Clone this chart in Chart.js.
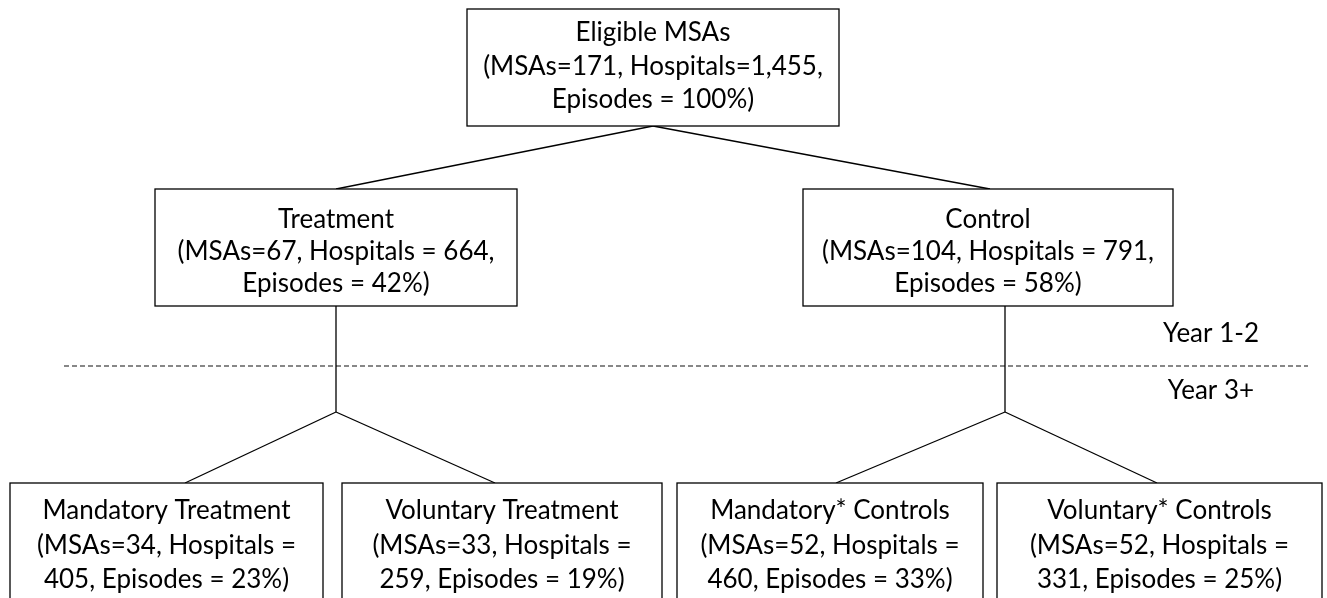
<!DOCTYPE html>
<html>
<head>
<meta charset="utf-8">
<script src="https://cdn.jsdelivr.net/npm/chart.js@4"></script>
<style>
html,body{margin:0;padding:0;background:#fff;}
#wrap{width:1327px;height:598px;position:relative;}
</style>
</head>
<body>
<div id="wrap"><canvas id="c" width="1327" height="598"></canvas></div>
<script>
// ---- content ----
const nodeTitles = ["Eligible MSAs","Treatment","Control","Mandatory Treatment","Voluntary Treatment","Mandatory* Controls","Voluntary* Controls"];
const nodeLine2 = ["(MSAs=171, Hospitals=1,455,","(MSAs=67, Hospitals = 664,","(MSAs=104, Hospitals = 791,","(MSAs=34, Hospitals =","(MSAs=33, Hospitals =","(MSAs=52, Hospitals =","(MSAs=52, Hospitals ="];
const nodeLine3 = ["Episodes = 100%)","Episodes = 42%)","Episodes = 58%)","405, Episodes = 23%)","259, Episodes = 19%)","460, Episodes = 33%)","331, Episodes = 25%)"];
const periodLabels = ["Year 1-2","Year 3+"];

// ---- layout (diagram coordinates) ----
const boxLeft   = [467, 155, 803, 10, 342, 677, 997];
const boxRight  = [839, 517, 1173, 323, 662, 983, 1322];
const boxTop    = [9, 189, 189, 483, 483, 483, 483];
const boxBottom = [126, 306, 306, 606, 606, 606, 606];
const textRowY  = [[33,67,100],[220,252,284],[220,252,284],[511,546,580],[511,546,580],[511,546,580],[511,546,580]];
// connectors
const connFromX = [653, 653, 336, 336, 336, 1005, 1005, 1005];
const connFromY = [126, 126, 306, 412, 412, 306, 412, 412];
const connToX   = [336, 990, 336, 185, 495, 1005, 836, 1157];
const connToY   = [189, 189, 412, 483, 483, 412, 483, 483];
const dividerX  = [64, 1308];
const dividerY  = 366;
const periodX   = [1211, 1211];
const periodY   = [334, 391];

const FONT = '26px Lato, "Open Sans", sans-serif';

const datasets = [];
for (let i = 0; i < connFromX.length; i++) {
  datasets.push({
    data: [{x: connFromX[i], y: connFromY[i]}, {x: connToX[i], y: connToY[i]}],
    showLine: true, borderColor: '#000', borderWidth: 1.3, pointRadius: 0, fill: false
  });
}
datasets.push({
  data: [{x: dividerX[0], y: dividerY}, {x: dividerX[1], y: dividerY}],
  showLine: true, borderColor: '#111', borderWidth: 1.1, borderDash: [5, 3], pointRadius: 0, fill: false
});

const boxPlugin = {
  id: 'boxes',
  afterDatasetsDraw(chart) {
    const ctx = chart.ctx, xs = chart.scales.x, ys = chart.scales.y;
    ctx.save();
    for (let i = 0; i < nodeTitles.length; i++) {
      const l = xs.getPixelForValue(boxLeft[i]), r = xs.getPixelForValue(boxRight[i]);
      const t = ys.getPixelForValue(boxTop[i]), b = ys.getPixelForValue(boxBottom[i]);
      ctx.fillStyle = '#fff';
      ctx.fillRect(l, t, r - l, b - t);
      ctx.strokeStyle = '#000';
      ctx.lineWidth = 1.3;
      ctx.strokeRect(l, t, r - l, b - t);
      ctx.fillStyle = '#000';
      ctx.font = FONT;
      ctx.textAlign = 'center';
      ctx.textBaseline = 'middle';
      const cx = (l + r) / 2;
      const lines = [nodeTitles[i], nodeLine2[i], nodeLine3[i]];
      lines.forEach((s, k) => ctx.fillText(s, cx, ys.getPixelForValue(textRowY[i][k])));
    }
    periodLabels.forEach((s, k) => {
      ctx.fillText(s, xs.getPixelForValue(periodX[k]), ys.getPixelForValue(periodY[k]));
    });
    ctx.restore();
  }
};

new Chart(document.getElementById('c'), {
  type: 'scatter',
  data: { datasets },
  options: {
    responsive: false,
    animation: false,
    layout: { padding: 0 },
    plugins: { legend: { display: false }, tooltip: { enabled: false } },
    scales: {
      x: { type: 'linear', min: 0, max: 1327, display: false },
      y: { type: 'linear', min: 0, max: 598, reverse: true, display: false }
    }
  },
  plugins: [boxPlugin]
});
</script>
</body>
</html>
